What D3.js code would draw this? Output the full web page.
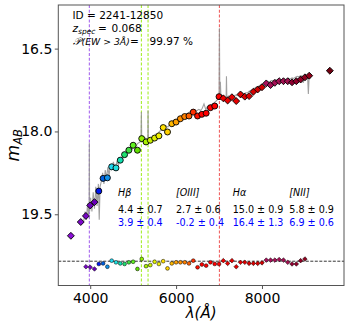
<!doctype html>
<html>
<head>
<script src="https://d3js.org/d3.v7.min.js"></script>
<style>
body{margin:0;background:#fff}
text{font-family:"DejaVu Sans",sans-serif}
</style>
</head>
<body>
<script>
var width = 349, height = 327;
var margin = {left: 58.3, right: 5, top: 5, bottom: 41.5};

// photometry: central wavelength (Angstrom) and AB magnitude
var photWave = [3550,3780,3900,4000,4100,4200,4300,4400,4500,4600,4700,4800,4900,5000,5100,5200,5300,5400,5500,5600,5700,5800,5900,6000,6100,6200,6300,6400,6500,6600,6700,6800,6900,7000,7100,7200,7300,7400,7500,7600,7700,7800,7900,8000,8100,8200,8300,8400,8500,8600,8700,8800,8900,9000,9100,9580];
var photMag = [19.89,19.64,19.53,19.34,19.28,19.08,18.85,18.84,18.64,18.66,18.52,18.42,18.34,18.25,18.34,18.13,18.19,18.16,18.12,18.08,17.93,18.01,17.86,17.83,17.77,17.73,17.72,17.65,17.72,17.69,17.67,17.57,17.54,17.37,17.40,17.44,17.38,17.45,17.33,17.37,17.36,17.28,17.24,17.20,17.13,17.16,17.12,17.09,17.09,17.09,17.11,17.09,17.06,17.02,16.99,16.90];

// residuals (mag) drawn around a reference level
var resLevel = 20.35;
var resWave = [3900,4000,4100,4200,4300,4400,4500,4600,4700,4800,4900,5000,5100,5200,5300,5400,5500,5600,5700,5800,5900,6000,6100,6200,6300,6400,6500,6600,6700,6800,6900,7000,7100,7200,7300,7400,7500,7600,7700,7800,7900,8000,8100,8200,8300,8400,8500,8600,8700,8800,8900,9000];
var resMag = [0.10,0.11,0.14,0.05,0.04,0.10,-0.01,0.02,0.04,0.05,0.02,0.01,0.14,-0.04,0.09,0.07,0.01,0.05,0.00,0.13,0.04,0.02,0.02,0.02,0.04,-0.01,0.11,0.06,0.08,0.02,0.05,0.05,-0.01,0.04,-0.01,0.10,0.02,0.02,0.04,0.04,0.04,0.03,-0.02,-0.02,-0.02,-0.03,-0.02,0.02,0.05,0.05,-0.01,-0.04];

// spectrum
var specWave = [3850,3880,3910,3940,3960,3975,3980,3986,4010,4040,4070,4100,4130,4160,4190,4210,4230,4260,4290,4320,4350,4380,4410,4440,4470,4500,4540,4580,4620,4660,4700,4740,4780,4820,4860,4900,4940,4980,5020,5060,5100,5140,5180,5192,5200,5250,5290,5340,5347,5355,5410,5450,5490,5530,5570,5610,5650,5690,5730,5770,5810,5850,5890,5930,5970,6010,6050,6090,6130,6170,6210,6250,6290,6330,6370,6410,6450,6490,6530,6570,6610,6650,6690,6730,6770,6810,6850,6890,6930,6970,7000,7009,7018,7031,7045,7080,7120,7165,7173,7182,7220,7260,7300,7340,7380,7420,7460,7500,7540,7580,7620,7660,7700,7740,7780,7820,7860,7900,7940,7980,8020,8060,8100,8140,8180,8220,8260,8300,8340,8380,8420,8460,8500,8540,8580,8620,8660,8700,8740,8780,8820,8860,8900,8940,8960,8990,9030,9060,9080,9100,9120];
var specMag = [19.62,19.45,19.60,19.30,19.50,19.35,18.20,19.45,19.20,19.45,19.10,19.40,19.00,19.35,18.95,19.60,19.00,18.90,18.75,18.95,18.70,18.85,18.65,18.80,18.60,18.70,18.55,18.68,18.55,18.60,18.48,18.52,18.40,18.45,18.33,18.38,18.28,18.32,18.22,18.28,18.22,18.20,18.18,17.65,18.15,18.20,18.12,18.15,17.62,18.12,18.15,18.10,18.12,18.05,18.08,18.00,17.98,17.93,17.96,17.90,17.92,17.87,17.85,17.84,17.80,17.80,17.76,17.75,17.72,17.70,17.70,17.68,17.66,17.64,17.62,17.60,17.63,17.62,17.60,17.62,17.58,17.50,17.60,17.55,17.55,17.52,17.50,17.48,17.45,17.42,17.40,16.13,17.30,17.10,17.38,17.40,17.38,17.38,17.00,17.40,17.36,17.38,17.35,17.36,17.34,17.35,17.32,17.33,17.30,17.32,17.30,17.30,17.27,17.26,17.24,17.22,17.20,17.19,17.17,17.15,17.14,17.12,17.11,17.10,17.10,17.08,17.08,17.07,17.07,17.06,17.06,17.07,17.05,17.06,17.05,17.04,17.05,17.03,17.04,17.02,17.00,17.01,16.99,17.00,17.12,16.98,17.05,16.97,17.32,16.98,17.05];

// emission lines at z = 0.068: [OII], Hb, [OIII], Ha
var lineWave = [3980, 5192, 5347, 7009];
var lineColor = ['#a868ee', '#a6ee2c', '#a6ee2c', '#f06262'];

var xTicks = [4000, 6000, 8000];
var yTicks = [16.5, 18.0, 19.5];

var lineNames = ['Hβ', '[OIII]', 'Hα', '[NII]'];
var ewSpec = ['4.4 ± 0.7', '2.7 ± 0.6', '15.0 ± 0.9', '5.8 ± 0.9'];
var ewPhot = ['3.9 ± 0.4', '-0.2 ± 0.4', '16.4 ± 1.3', '6.9 ± 0.6'];

var svg = d3.select('body').append('svg').attr('width', width).attr('height', height);

var x = d3.scaleLinear().domain([3257, 9910]).range([margin.left, width - margin.right]);
var y = d3.scaleLinear().domain([15.71, 20.79]).range([margin.top, height - margin.bottom]);

var color = d3.scaleLinear()
  .domain([3500,4100,4200,4300,4400,4500,4600,4700,4800,4900,5000,5100,5200,5300,5400,5500,5600,5700,5800,5900,6000,6100,6200,6300,6400,6500,6600,7000,7100,8000,8100,8600,8700,9100,9600])
  .range(['#8e10d8','#6a00b8','#0018f0','#0060e0','#1090e8','#20d8f0','#20e0e0','#10e0b0','#20e070','#40e040','#60f020','#60e000','#90f000','#a8f000','#c8f000','#e0f000','#f0f000','#ffe000','#ffd000','#ffb800','#ffa000','#ff9000','#ff8000','#ff6000','#ff3000','#ff1000','#ff0000','#ff0000','#ee0000','#d00000','#a8105a','#a01050','#900030','#900018','#700010'])
  .clamp(true);

function isCircle(w) { return w >= 4150 && w <= 7050; }

// vertical emission line markers
svg.selectAll('line.em').data(lineWave).join('line')
  .attr('class', 'em')
  .attr('x1', d => x(d)).attr('x2', d => x(d))
  .attr('y1', margin.top).attr('y2', height - margin.bottom)
  .attr('stroke', (d, i) => lineColor[i])
  .attr('stroke-width', 1.1)
  .attr('stroke-dasharray', '3,1.8');

// residual zero line
svg.append('line')
  .attr('x1', margin.left).attr('x2', width - margin.right)
  .attr('y1', y(resLevel)).attr('y2', y(resLevel))
  .attr('stroke', '#000').attr('stroke-width', 0.8)
  .attr('stroke-dasharray', '3,1.5');

// spectrum
var spec = specWave.map((w, i) => [w, specMag[i]]);
svg.append('path')
  .datum(spec)
  .attr('fill', 'none')
  .attr('stroke', '#909090')
  .attr('stroke-opacity', 0.85)
  .attr('stroke-width', 1.1)
  .attr('d', d3.line().x(d => x(d[0])).y(d => y(d[1])));

var diamond = d3.symbol().type(d3.symbolDiamond2);

function drawPoints(g, wave, mag, rc, rd, sw) {
  var pts = wave.map((w, i) => ({w: w, m: mag[i]}));
  g.selectAll('circle').data(pts.filter(d => isCircle(d.w))).join('circle')
    .attr('cx', d => x(d.w)).attr('cy', d => y(d.m)).attr('r', rc)
    .attr('fill', d => color(d.w)).attr('stroke', '#000').attr('stroke-width', sw);
  g.selectAll('path').data(pts.filter(d => !isCircle(d.w))).join('path')
    .attr('d', diamond.size(rd * rd * 2))
    .attr('transform', d => 'translate(' + x(d.w) + ',' + y(d.m) + ')')
    .attr('fill', d => color(d.w)).attr('stroke', '#000').attr('stroke-width', sw);
}

drawPoints(svg.append('g'), resWave, resWave.map((w, i) => resLevel + resMag[i]), 1.9, 2.6, 0.5);
drawPoints(svg.append('g'), photWave, photMag, 3.0, 3.9, 0.9);

// frame
svg.append('rect')
  .attr('x', margin.left).attr('y', margin.top)
  .attr('width', width - margin.left - margin.right)
  .attr('height', height - margin.top - margin.bottom)
  .attr('fill', 'none').attr('stroke', '#555').attr('stroke-width', 1);

// axes
var gx = svg.append('g').attr('transform', 'translate(0,' + (height - margin.bottom) + ')')
  .call(d3.axisBottom(x).tickValues(xTicks).tickSize(3.5).tickPadding(4.5).tickFormat(d3.format('d')));
var gy = svg.append('g').attr('transform', 'translate(' + margin.left + ',0)')
  .call(d3.axisLeft(y).tickValues(yTicks).tickSize(3.5).tickPadding(2.5).tickFormat(d3.format('.1f')));
[gx, gy].forEach(function(g) {
  g.select('.domain').remove();
  g.selectAll('.tick line').attr('stroke', '#555');
  g.selectAll('.tick text').attr('font-size', 14).attr('font-family', 'DejaVu Sans').attr('fill', '#000');
});

// axis labels
svg.append('text')
  .attr('x', (margin.left + width - margin.right) / 2).attr('y', 318)
  .attr('text-anchor', 'middle').attr('font-size', 15).attr('font-style', 'italic')
  .text('λ(Å)');
var yl = svg.append('text')
  .attr('transform', 'translate(19,' + ((margin.top + height - margin.bottom) / 2) + ') rotate(-90)')
  .attr('text-anchor', 'middle').attr('font-size', 17).attr('font-style', 'italic');
yl.append('tspan').text('m');
yl.append('tspan').attr('font-size', 11.5).attr('dy', 3).text('AB');

// info text
var info = svg.append('g').attr('font-size', 10.5);
info.append('text').attr('x', 72.5).attr('y', 19).text('ID = 2241-12850');
var t2 = info.append('text').attr('y', 32);
t2.append('tspan').attr('x', 72.5).attr('font-style', 'italic').text('z');
t2.append('tspan').attr('font-style', 'italic').attr('font-size', 7.5).attr('dy', 2).text('spec');
t2.append('tspan').attr('x', 98).attr('dy', -2).text('=');
t2.append('tspan').attr('x', 111.5).text('0.068');
var t3 = info.append('text').attr('y', 45);
t3.append('tspan').attr('x', 72.5).attr('font-style', 'italic').text('𝒫');
t3.append('tspan').attr('x', 81.5).attr('font-style', 'italic').attr('font-size', 9.3).text('(EW > 3Å)');
t3.append('tspan').attr('x', 130).text('=');
t3.append('tspan').attr('x', 149.5).text('99.97 %');

// equivalent width table
var colX = [118, 176, 232.7, 289.3];
var tbl = svg.append('g').attr('font-size', 9.6);
tbl.selectAll('text.nm').data(lineNames).join('text').attr('class', 'nm')
  .attr('x', (d, i) => colX[i]).attr('y', 196).attr('font-style', 'italic').text(d => d);
tbl.selectAll('text.es').data(ewSpec).join('text').attr('class', 'es')
  .attr('x', (d, i) => colX[i]).attr('y', 212.5).text(d => d);
tbl.selectAll('text.ep').data(ewPhot).join('text').attr('class', 'ep')
  .attr('x', (d, i) => colX[i]).attr('y', 226).attr('fill', '#0000ff').text(d => d);
</script>
</body>
</html>
